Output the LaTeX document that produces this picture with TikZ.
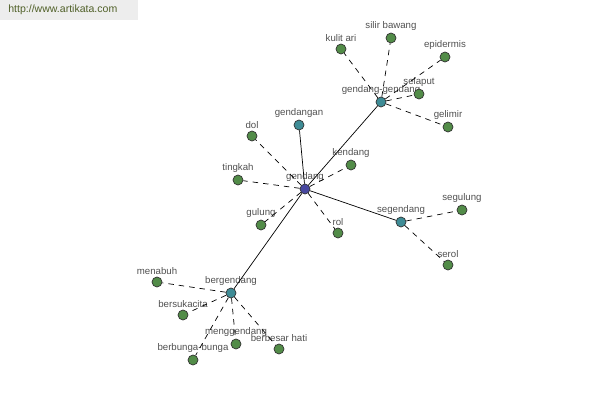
\documentclass[tikz,border=0pt]{standalone}
\usepackage{fontspec}
\setmainfont{Liberation Sans}
\usepackage{tikz}
\usetikzlibrary{positioning,calc}
\usepackage{xcolor}
\definecolor{hubblue}{RGB}{72,72,160}
\definecolor{hubteal}{RGB}{62,140,150}
\definecolor{leafgreen}{RGB}{82,140,72}
\definecolor{labelgray}{RGB}{80,80,80}
\definecolor{linkgreen}{RGB}{80,96,40}

\begin{document}
\begin{tikzpicture}[
  x=0.02cm, y=-0.02cm,
  word/.style={draw=black!80, circle, inner sep=0pt, minimum size=0.2cm, line width=0.4pt,
    label distance=-0.5pt, label={[font=\fontsize{5.5}{6}\selectfont, text=labelgray, inner sep=1pt]above:#1}},
  root/.style={word=#1, fill=hubblue},
  hub/.style={word=#1, fill=hubteal},
  leaf/.style={word=#1, fill=leafgreen},
  link/.style={line width=0.4pt},
  rel/.style={line width=0.4pt, dash pattern=on 0.11cm off 0.1cm}
]
  \useasboundingbox (0,0) rectangle (600,400);
  % header
  \fill[black!7] (0,0) rectangle (138,20);
  \node[anchor=west, inner sep=0pt, font=\fontsize{6}{7}\selectfont, text=linkgreen] (site) at (8,10) {http://www.artikata.com};

  % main word and derived forms
  \node[root=gendang] (gendang) at (305,189) {};
  \node[hub=gendang-gendang] (gg) at (381,102) {};
  \node[hub=gendangan] (gendangan) at (299,125) {};
  \node[hub=segendang] (segendang) at (401,222) {};
  \node[hub=bergendang] (bergendang) at (231,293) {};

  % related words
  \node[leaf=kulit ari] (kulitari) at (341,49) {};
  \node[leaf=silir bawang] (silir) at (391,38) {};
  \node[leaf=epidermis] (epidermis) at (445,57) {};
  \node[leaf=selaput] (selaput) at (419,94) {};
  \node[leaf=gelimir] (gelimir) at (448,127) {};
  \node[leaf=dol] (dol) at (252,136) {};
  \node[leaf=tingkah] (tingkah) at (238,180) {};
  \node[leaf=kendang] (kendang) at (351,165) {};
  \node[leaf=gulung] (gulung) at (261,225) {};
  \node[leaf=rol] (rol) at (338,233) {};
  \node[leaf=segulung] (segulung) at (462,210) {};
  \node[leaf=serol] (serol) at (448,265) {};
  \node[leaf=menabuh] (menabuh) at (157,282) {};
  \node[leaf=bersukacita] (bersukacita) at (183,315) {};
  \node[leaf=menggendang] (menggendang) at (236,344) {};
  \node[leaf=berbesar hati] (berbesar) at (279,349) {};
  \node[leaf=berbunga-bunga] (berbunga) at (193,360) {};

  % solid links
  \draw[link] (gendang) -- (gg);
  \draw[link] (gendang) -- (gendangan);
  \draw[link] (gendang) -- (segendang);
  \draw[link] (gendang) -- (bergendang);

  % dashed links
  \draw[rel] (gg) -- (kulitari);
  \draw[rel] (gg) -- (silir);
  \draw[rel] (gg) -- (epidermis);
  \draw[rel] (gg) -- (selaput);
  \draw[rel] (gg) -- (gelimir);
  \draw[rel] (gendang) -- (dol);
  \draw[rel] (gendang) -- (tingkah);
  \draw[rel] (gendang) -- (kendang);
  \draw[rel] (gendang) -- (gulung);
  \draw[rel] (gendang) -- (rol);
  \draw[rel] (segendang) -- (segulung);
  \draw[rel] (segendang) -- (serol);
  \draw[rel] (bergendang) -- (menabuh);
  \draw[rel] (bergendang) -- (bersukacita);
  \draw[rel] (bergendang) -- (menggendang);
  \draw[rel] (bergendang) -- (berbesar);
  \draw[rel] (bergendang) -- (berbunga);
\end{tikzpicture}
\end{document}
